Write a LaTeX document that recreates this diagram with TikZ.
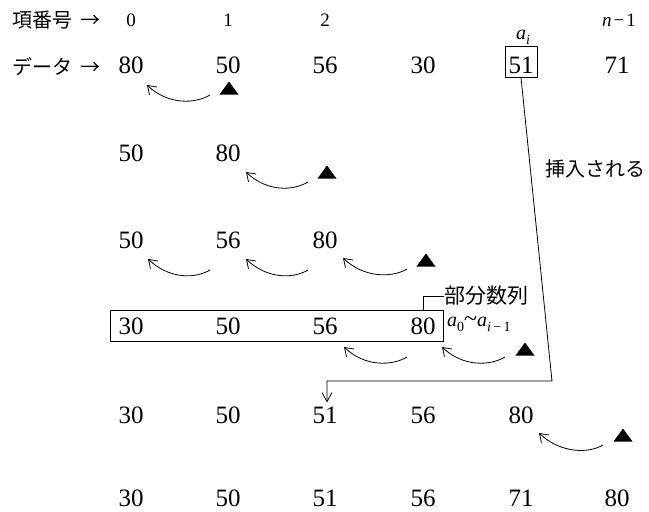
\documentclass[tikz,border=0pt]{standalone}
\usepackage{fontspec}
\setmainfont{Liberation Serif}
\newfontfamily\jp{Noto Sans CJK JP}
\usetikzlibrary{arrows.meta,calc,fit}
\newcommand\lsub[1]{\raisebox{-0.25em}{\fontsize{14}{14}\selectfont #1}}
\begin{document}
\begin{tikzpicture}[x=1pt,y=-1pt,
  num/.style={font=\fontsize{25}{25}\selectfont, inner sep=0pt},
  idx/.style={font=\fontsize{19}{19}\selectfont, inner sep=0pt},
  jtxt/.style={font=\jp\fontsize{20}{20}\selectfont, inner sep=0pt},
  lbl/.style={font=\fontsize{20}{20}\selectfont, inner sep=0pt},
  curv/.style={line width=0.8pt, -{Straight Barb[length=8pt,width=11pt]}},
  frame/.style={draw, line width=0.8pt},
  tri/.pic={\fill (-9.5,6.5) -- (9.5,6.5) -- (0,-6.5) -- cycle;}]
\useasboundingbox (0,0) rectangle (649,512);

% header labels
\node[jtxt, anchor=west] (hidx) at (12,20) {項番号\hspace{8pt}→};
\node[jtxt, anchor=west] (hdat) at (12,67) {データ\hspace{8pt}→};
\node[idx] (i0) at (131,20) {0};
\node[idx] (i1) at (228,20) {1};
\node[idx] (i2) at (325,20) {2};
\node[idx] (i5) at (619,20) {\textit{n}\hspace{2pt}−\hspace{2pt}1};

% row 1
\node[num] (r1c0) at (131,65) {80};
\node[num] (r1c1) at (228,65) {50};
\node[num] (r1c2) at (325,65) {56};
\node[num] (r1c3) at (423,65) {30};
\node[num] (r1c4) at (521,65) {51};
\node[num] (r1c5) at (617,65) {71};
\node[frame, minimum width=32pt, minimum height=31pt, inner sep=0pt] (box51) at (521,61.5) {};
\node[lbl] (ai) at (523,37) {\textit{a}\lsub{\textit{i}}};

% row 2
\node[num] (r2c0) at (131,153) {50};
\node[num] (r2c1) at (228,153) {80};

% row 3
\node[num] (r3c0) at (131,240) {50};
\node[num] (r3c1) at (228,240) {56};
\node[num] (r3c2) at (325,240) {80};

% row 4
\node[num] (r4c0) at (131,326) {30};
\node[num] (r4c1) at (228,326) {50};
\node[num] (r4c2) at (325,326) {56};
\node[num] (r4c3) at (423,326) {80};
\node[frame, fit=(r4c0)(r4c3), inner xsep=7.5pt, inner ysep=7pt] (sub) {};
\node[jtxt, font=\jp\fontsize{21}{21}\selectfont, anchor=west] (sublbl) at (444,296) {部分数列};
\draw[line width=0.8pt] (r4c3.north |- sub.north) |- (sublbl.west);
\node[lbl, anchor=west] (range) at (447,324) {\textit{a}\lsub{0}{\fontsize{24}{24}\selectfont\textasciitilde}\textit{a}\lsub{\textit{i}\,−\,1}};

% row 5
\node[num] (r5c0) at (131,415) {30};
\node[num] (r5c1) at (228,415) {50};
\node[num] (r5c2) at (325,415) {51};
\node[num] (r5c3) at (423,415) {56};
\node[num] (r5c4) at (521,415) {80};

% row 6
\node[num] (r6c0) at (131,498) {30};
\node[num] (r6c1) at (228,498) {50};
\node[num] (r6c2) at (325,498) {51};
\node[num] (r6c3) at (423,498) {56};
\node[num] (r6c4) at (521,498) {71};
\node[num] (r6c5) at (617,498) {80};

% insertion line
\coordinate (bend) at (552,381);
\draw[line width=0.8pt, -{Straight Barb[length=9pt,width=10pt]}, shorten >=4pt]
  (box51.south) -- (bend) -| ([xshift=2pt]r5c2.north);
\node[jtxt, anchor=west] (ins) at (545,169) {挿入される};

% triangles
\pic at (229,88) {tri};
\pic at (327,172) {tri};
\pic at (426,260) {tri};
\pic at (525,349) {tri};
\pic at (623,435) {tri};

% curved arrows
\coordinate (s1) at (210,95);  \coordinate (e1) at (147,85);
\coordinate (s2) at (308,182); \coordinate (e2) at (246,172);
\coordinate (s3a) at (210,270); \coordinate (e3a) at (148,259);
\coordinate (s3b) at (308,270); \coordinate (e3b) at (246,259);
\coordinate (s3c) at (407,269); \coordinate (e3c) at (343,258);
\coordinate (s4a) at (407,357); \coordinate (e4a) at (344,347);
\coordinate (s4b) at (505,357); \coordinate (e4b) at (442,347);
\coordinate (s5) at (603,445); \coordinate (e5) at (539,433);
\foreach \s/\e in {s1/e1,s2/e2,s3a/e3a,s3b/e3b,s3c/e3c,s4a/e4a,s4b/e4b,s5/e5}
  \draw[curv] (\s) .. controls +(-15,9) and +(21,20) .. (\e);
\end{tikzpicture}
\end{document}
